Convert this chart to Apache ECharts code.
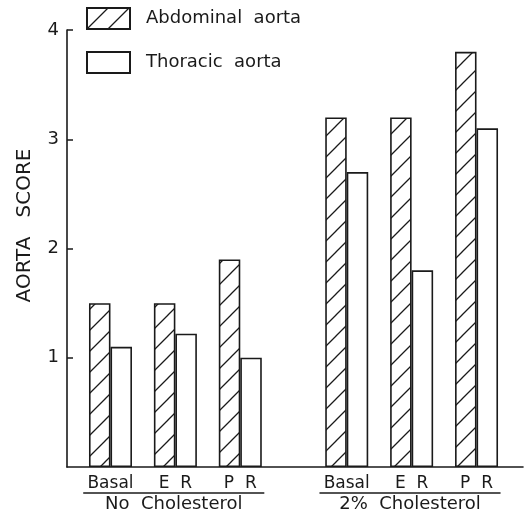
<!DOCTYPE html>
<html>
<head>
<meta charset="utf-8">
<script src="https://cdn.jsdelivr.net/npm/echarts@6/dist/echarts.min.js"></script>
<style>
  html, body { margin: 0; padding: 0; background: #fff; }
  #chart { width: 531px; height: 516px; }
</style>
</head>
<body>
<div id="chart"></div>
<script>
// Treatment categories within each diet group
const treatments = ['Basal', 'E  R', 'P  R'];
const groups = ['No  Cholesterol', '2%  Cholesterol'];

// Aorta scores, ordered [No Cholesterol: Basal, ER, PR, 2% Cholesterol: Basal, ER, PR]
const abdominal = [1.5, 1.5, 1.9, 3.2, 3.2, 3.8];
const thoracic  = [1.1, 1.22, 1.0, 2.7, 1.8, 3.1];

const yTicks = [1, 2, 3, 4];

// Horizontal layout in "slot" units: one slot per treatment, extra gap between diet groups
const groupGap = 0.64;
const positions = [];
groups.forEach((g, gi) => {
  treatments.forEach((t, ti) => {
    positions.push(gi * (treatments.length + groupGap) + ti);
  });
});
const labelFor = {};
positions.forEach((p, i) => { labelFor[p.toFixed(3)] = treatments[i % treatments.length]; });

const INK = '#1a1a1a';
const FONT = 'DejaVu Sans';

// Diagonal "/" hatching used for the abdominal bars
function hatchPattern() {
  const s = 21;
  const c = document.createElement('canvas');
  c.width = s; c.height = s;
  const ctx = c.getContext('2d');
  ctx.fillStyle = '#fff';
  ctx.fillRect(0, 0, s, s);
  ctx.strokeStyle = INK;
  ctx.lineWidth = 1.3;
  ctx.beginPath();
  ctx.moveTo(-2, s + 2); ctx.lineTo(s + 2, -2);
  ctx.moveTo(-2, 2); ctx.lineTo(2, -2);
  ctx.moveTo(s - 2, s + 2); ctx.lineTo(s + 2, s - 2);
  ctx.stroke();
  return c;
}

const chart = echarts.init(document.getElementById('chart'), null, { renderer: 'canvas' });

const barW = 21.5;
const option = {
  animation: false,
  backgroundColor: '#fff',
  grid: { left: 67, right: 8, top: 30, bottom: 49, containLabel: false },
  legend: {
    orient: 'vertical',
    left: 86,
    top: 7,
    padding: 0,
    itemWidth: 43,
    itemHeight: 21,
    itemGap: 21,
    icon: 'rect',
    selectedMode: false,
    textStyle: { fontFamily: FONT, fontSize: 18, color: INK, padding: [0, 0, 0, 11] },
    formatter: n => n.replace(' ', '  ')
  },
  xAxis: {
    type: 'value',
    min: -0.67,
    max: 6.356,
    splitLine: { show: false },
    axisLine: { show: true, onZero: false, lineStyle: { color: INK, width: 1.6 } },
    axisTick: { show: false },
    axisLabel: {
      customValues: positions,
      margin: 8,
      fontFamily: FONT,
      fontSize: 17,
      color: INK,
      formatter: v => labelFor[Number(v).toFixed(3)] || ''
    }
  },
  yAxis: {
    type: 'value',
    min: 0,
    max: 4,
    interval: 1,
    splitLine: { show: false },
    axisLine: { show: true, onZero: false, lineStyle: { color: INK, width: 1.6 } },
    axisTick: { show: true, inside: true, length: 6, customValues: yTicks, lineStyle: { color: INK, width: 1.5 } },
    axisLabel: {
      margin: 8,
      fontFamily: FONT,
      fontSize: 18,
      color: INK,
      customValues: yTicks
    }
  },
  series: [
    {
      name: 'Abdominal aorta',
      type: 'bar',
      barWidth: barW,
      barGap: '0%',
      data: positions.map((p, i) => [p, abdominal[i]]),
      itemStyle: {
        color: { image: hatchPattern(), repeat: 'repeat' },
        borderColor: INK,
        borderWidth: 1.6
      }
    },
    {
      name: 'Thoracic aorta',
      type: 'bar',
      barWidth: barW,
      barGap: '0%',
      data: positions.map((p, i) => [p, thoracic[i]]),
      itemStyle: { color: '#fff', borderColor: INK, borderWidth: 1.6 }
    }
  ]
};
chart.setOption(option);

// Group captions, underlines and the y-axis title
function groupGraphics() {
  const baseY = chart.convertToPixel({ yAxisIndex: 0 }, 0);
  const els = [];
  groups.forEach((g, gi) => {
    const first = positions[gi * treatments.length];
    const last = positions[gi * treatments.length + treatments.length - 1];
    const x0 = chart.convertToPixel({ xAxisIndex: 0 }, first - 0.42);
    const x1 = chart.convertToPixel({ xAxisIndex: 0 }, last + 0.37);
    els.push({
      type: 'line',
      shape: { x1: x0, y1: baseY + 26, x2: x1, y2: baseY + 26 },
      style: { stroke: INK, lineWidth: 1.6 }
    });
    els.push({
      type: 'text',
      x: (x0 + x1) / 2,
      y: baseY + 37,
      style: {
        text: g, fill: INK, font: '18px "' + FONT + '"',
        textAlign: 'center', textVerticalAlign: 'middle'
      }
    });
  });
  const top = chart.convertToPixel({ yAxisIndex: 0 }, 4);
  els.push({
    type: 'text',
    x: 25,
    y: (top + baseY) / 2 - 23,
    rotation: Math.PI / 2,
    style: {
      text: 'AORTA   SCORE', fill: INK, font: '20px "' + FONT + '"',
      textAlign: 'center', textVerticalAlign: 'middle'
    }
  });
  return els;
}
chart.setOption({ graphic: groupGraphics() });
</script>
</body>
</html>
